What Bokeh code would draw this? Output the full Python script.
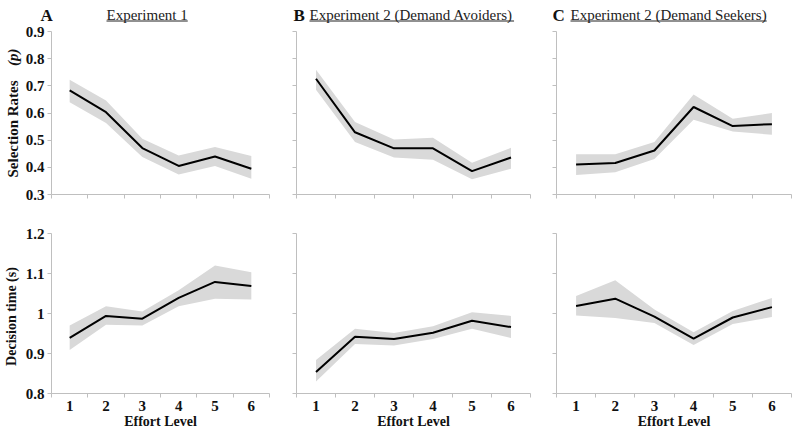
import math
from bokeh.plotting import figure
from bokeh.layouts import row, column
from bokeh.models import Range1d, FixedTicker, CustomJSTickFormatter
from bokeh.core.properties import value
from bokeh.embed import file_html
from bokeh.resources import INLINE

# ---------------- data ----------------
effort_levels = [1, 2, 3, 4, 5, 6]
effort_bounds = [0.5, 1.5, 2.5, 3.5, 4.5, 5.5, 6.5]

sel_ticks = [0.3, 0.4, 0.5, 0.6, 0.7, 0.8, 0.9]
dt_ticks = [0.8, 0.9, 1.0, 1.1, 1.2]

# Selection rates (p)
sel_exp1 = [0.683, 0.603, 0.471, 0.405, 0.440, 0.395]
sel_exp1_lo = [0.640, 0.563, 0.438, 0.374, 0.405, 0.358]
sel_exp1_hi = [0.722, 0.646, 0.505, 0.444, 0.475, 0.442]

sel_avoid = [0.726, 0.529, 0.470, 0.470, 0.386, 0.436]
sel_avoid_lo = [0.686, 0.493, 0.436, 0.428, 0.356, 0.395]
sel_avoid_hi = [0.759, 0.567, 0.502, 0.509, 0.417, 0.472]

sel_seek = [0.410, 0.416, 0.462, 0.622, 0.552, 0.559]
sel_seek_lo = [0.372, 0.382, 0.431, 0.575, 0.532, 0.520]
sel_seek_hi = [0.448, 0.448, 0.493, 0.668, 0.579, 0.600]

# Decision time (s)
dt_exp1 = [0.939, 0.994, 0.987, 1.039, 1.079, 1.069]
dt_exp1_lo = [0.909, 0.972, 0.970, 1.018, 1.037, 1.035]
dt_exp1_hi = [0.970, 1.018, 1.005, 1.058, 1.120, 1.103]

dt_avoid = [0.854, 0.942, 0.936, 0.952, 0.982, 0.966]
dt_avoid_lo = [0.830, 0.924, 0.920, 0.936, 0.962, 0.939]
dt_avoid_hi = [0.884, 0.962, 0.951, 0.968, 1.003, 0.994]

dt_seek = [1.019, 1.037, 0.992, 0.937, 0.990, 1.016]
dt_seek_lo = [0.995, 0.989, 0.976, 0.921, 0.974, 0.991]
dt_seek_hi = [1.044, 1.083, 1.010, 0.953, 1.006, 1.039]

panel_letters = ["A", "B", "C"]
panel_titles = ["Experiment 1", "Experiment 2 (Demand Avoiders)", "Experiment 2 (Demand Seekers)"]
ylabel_top = ["Selection Rates", "(p)"]
ylabel_bottom = "Decision time (s)"
xlabel = "Effort Level"

# ---------------- style ----------------
FONT = value("Liberation Serif")
AXIS_COL = "#bfbfbf"
TEXT_COL = "#111111"
BAND_COL = "#d9d9d9"

# Times / Liberation Serif regular advance widths (1/1000 em)
TIMES_W = {"E": 611, "x": 500, "p": 500, "e": 444, "r": 333, "i": 278, "m": 778,
           "n": 500, "t": 278, " ": 250, "1": 500, "2": 500, "(": 333, ")": 333,
           "D": 722, "a": 444, "d": 500, "A": 722, "v": 500, "o": 500, "s": 389,
           "S": 556, "k": 500}


def text_width(s, size):
    return sum(TIMES_W.get(c, 500) for c in s) * size / 1000.0


def make_panel(y, lo, hi, yrange, yticks, width, left, right, top, bottom, height,
               ylabels, xlabels, show_xlabel):
    p = figure(width=width, height=height, output_backend="svg", toolbar_location=None,
               x_range=Range1d(0.5, 6.5), y_range=Range1d(*yrange),
               min_border_left=left, min_border_right=right,
               min_border_top=top, min_border_bottom=bottom)
    p.outline_line_color = None
    p.grid.visible = False
    p.background_fill_color = "white"
    p.border_fill_color = "white"

    p.varea(x=effort_levels, y1=lo, y2=hi, fill_color=BAND_COL, fill_alpha=1.0)
    p.line(x=effort_levels, y=y, line_color="black", line_width=2)

    xa = p.xaxis[0]
    xa.ticker = FixedTicker(ticks=effort_levels, minor_ticks=effort_bounds)
    xa.axis_line_color = AXIS_COL
    xa.major_tick_line_color = None
    xa.major_tick_out = 0
    xa.major_tick_in = 0
    xa.minor_tick_line_color = AXIS_COL
    xa.minor_tick_out = 4
    xa.minor_tick_in = 0
    xa.major_label_text_font = "Liberation Serif"
    xa.major_label_text_font_style = "bold"
    xa.major_label_text_font_size = "15px"
    xa.major_label_text_color = TEXT_COL
    xa.major_label_standoff = 3
    if not xlabels:
        xa.formatter = CustomJSTickFormatter(code="return ''")
    if show_xlabel:
        xa.axis_label = xlabel
        xa.axis_label_text_font = "Liberation Serif"
        xa.axis_label_text_font_style = "bold"
        xa.axis_label_text_font_size = "14px"
        xa.axis_label_text_color = TEXT_COL
        xa.axis_label_standoff = 0

    ya = p.yaxis[0]
    ya.ticker = FixedTicker(ticks=yticks, minor_ticks=[])
    ya.axis_line_color = AXIS_COL
    ya.major_tick_line_color = AXIS_COL
    ya.major_tick_out = 4
    ya.major_tick_in = 0
    ya.minor_tick_line_color = None
    ya.major_label_text_font = "Liberation Serif"
    ya.major_label_text_font_style = "bold"
    ya.major_label_text_font_size = "15px"
    ya.major_label_text_color = TEXT_COL
    ya.major_label_standoff = 3
    if ylabels:
        ya.formatter = CustomJSTickFormatter(code="return String(Math.round(tick*10)/10)")
    else:
        ya.formatter = CustomJSTickFormatter(code="return ''")
    return p


# geometry (pixels)
STRIP_W = 22
COL_W = [258, 260, 252]
COL_L = [27, 16, 16]
COL_R = [11, 10, 1]
TITLE_H = 23
TOP_H, TOP_T, TOP_B = 190, 8, 19
BOT_H, BOT_T, BOT_B = 220, 20, 40
TOTAL_H = TITLE_H + TOP_H + BOT_H

top_series = [(sel_exp1, sel_exp1_lo, sel_exp1_hi),
              (sel_avoid, sel_avoid_lo, sel_avoid_hi),
              (sel_seek, sel_seek_lo, sel_seek_hi)]
bot_series = [(dt_exp1, dt_exp1_lo, dt_exp1_hi),
              (dt_avoid, dt_avoid_lo, dt_avoid_hi),
              (dt_seek, dt_seek_lo, dt_seek_hi)]

top_row = []
bot_row = []
for i in range(3):
    y, lo, hi = top_series[i]
    top_row.append(make_panel(y, lo, hi, (0.3, 0.9), sel_ticks, COL_W[i], COL_L[i], COL_R[i],
                              TOP_T, TOP_B, TOP_H, ylabels=(i == 0), xlabels=False,
                              show_xlabel=False))
    y, lo, hi = bot_series[i]
    bot_row.append(make_panel(y, lo, hi, (0.8, 1.2), dt_ticks, COL_W[i], COL_L[i], COL_R[i],
                              BOT_T, BOT_B, BOT_H, ylabels=(i == 0), xlabels=True,
                              show_xlabel=True))

# ---------------- title strip ----------------
TW = sum(COL_W)
tfig = figure(width=TW, height=TITLE_H, output_backend="svg", toolbar_location=None,
              x_range=Range1d(0, TW), y_range=Range1d(0, TITLE_H),
              x_axis_type=None, y_axis_type=None, min_border=0)
tfig.outline_line_color = None
tfig.grid.visible = False

# x positions relative to the title strip's left edge; y measured up from its bottom
letter_x = [18, 271, 530]
title_x = [84, 287, 548]
base_y = 8.5
tfig.text(x=letter_x, y=[base_y] * 3, text=panel_letters, text_font=FONT,
          text_font_style="bold", text_font_size=value("17px"), text_color=TEXT_COL,
          text_align="left", text_baseline="alphabetic")
tfig.text(x=title_x, y=[base_y] * 3, text=panel_titles, text_font=FONT,
          text_font_style="normal", text_font_size=value("15px"), text_color="#222222",
          text_align="left", text_baseline="alphabetic")
ul_x1 = [x + text_width(t, 15) for x, t in zip(title_x, panel_titles)]
tfig.segment(x0=title_x, y0=[2.5] * 3, x1=ul_x1, y1=[2.5] * 3, line_color="#222222",
             line_width=1)

# ---------------- y-label strip ----------------
sfig = figure(width=STRIP_W, height=TOTAL_H, output_backend="svg", toolbar_location=None,
              x_range=Range1d(0, STRIP_W), y_range=Range1d(0, TOTAL_H),
              x_axis_type=None, y_axis_type=None, min_border=0)
sfig.outline_line_color = None
sfig.grid.visible = False
# window y -> data y : TOTAL_H - wy
sfig.text(x=[12], y=[TOTAL_H - 177], text=[ylabel_top[0]], angle=math.pi / 2,
          text_font=FONT, text_font_style="bold", text_font_size=value("15px"),
          text_color=TEXT_COL, text_align="left", text_baseline="middle")
sfig.text(x=[12], y=[TOTAL_H - 48], text=[ylabel_top[1]], angle=math.pi / 2,
          text_font=FONT, text_font_style="bold italic", text_font_size=value("15px"),
          text_color=TEXT_COL, text_align="right", text_baseline="middle")
sfig.text(x=[11], y=[TOTAL_H - 316], text=[ylabel_bottom], angle=math.pi / 2,
          text_font=FONT, text_font_style="bold", text_font_size=value("14px"),
          text_color=TEXT_COL, text_align="center", text_baseline="middle")

layout = row(sfig, column(tfig, row(*top_row), row(*bot_row)))

with open("out.html", "w") as f:
    f.write(file_html(layout, INLINE))
